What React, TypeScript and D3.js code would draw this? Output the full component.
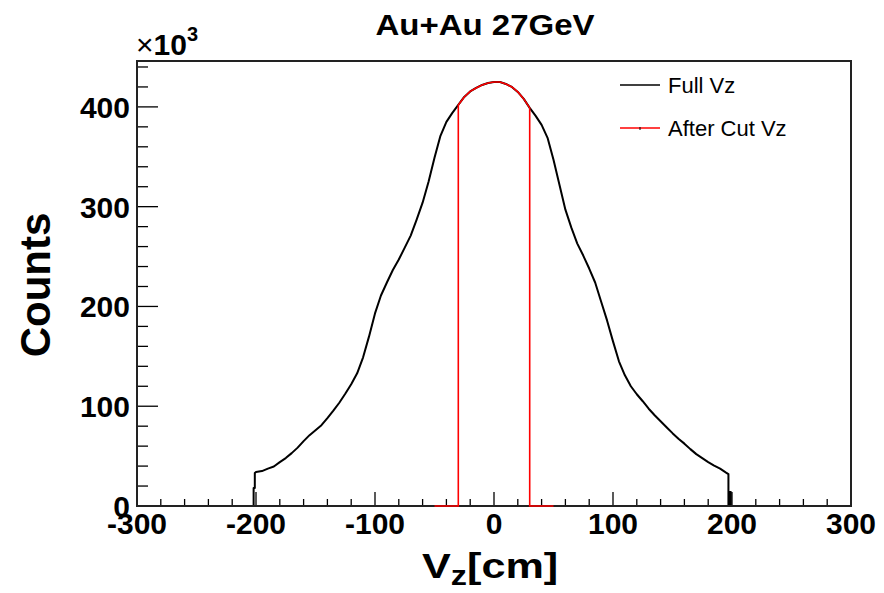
import React from "react";
import * as d3 from "d3";

const vz = [
  -300, -202, -202, -201, -201, -200, -195, -190, -185, -180, -175, -170, -165, -160, -155, -150,
  -145, -140, -135, -130, -125, -120, -115, -110, -105, -100, -95, -90, -85, -80, -75, -70,
  -65, -60, -55, -50, -45, -40, -35, -30, -25, -20, -15, -10, -5, 0, 5, 10, 15, 20, 25, 30,
  35, 40, 45, 50, 55, 60, 65, 70, 75, 80, 85, 90, 95, 100, 105, 110, 115, 120, 125, 130,
  135, 140, 145, 150, 155, 160, 165, 170, 175, 180, 185, 190, 195, 197, 197, 198, 198, 199, 199, 300,
];
const counts = [
  0, 0, 18, 18, 33, 34, 35, 37.5, 39.6, 44, 48, 53, 58.5, 65, 71, 76,
  81, 88, 95.5, 103.5, 112.5, 122, 133, 149, 170, 193, 211, 224, 236.5, 247, 259, 271,
  287, 304, 325, 349, 371, 385, 394, 402, 410, 415.5, 419, 422, 424, 425, 425, 423, 420, 415, 408, 399,
  391, 382, 369, 347, 322, 297, 279, 263, 251, 238, 224, 205, 186, 165, 145, 131, 120, 112, 105, 97.5,
  91, 85, 79, 73, 67.5, 62.5, 57, 52, 48, 44, 40.5, 37.5, 33.5, 32, 0, 0, 14, 14, 0, 0,
];
const cutEdges = [-30, 30];
const cutHistRange = [-50, 50];
const xTicksMajor = [-300, -200, -100, 0, 100, 200, 300];
const yTicksMajor = [0, 100, 200, 300, 400];
const legendLabels = ["Full Vz", "After Cut Vz"];
const title = "Au+Au 27GeV";

const W = 884, H = 593;
const L = 137, R = 851, T = 61, B = 506;
const FONT = "'Liberation Sans', Arial, Helvetica, sans-serif";

export default function App() {
  const x = d3.scaleLinear().domain([-300, 300]).range([L, R]);
  const y = d3.scaleLinear().domain([0, 446]).range([B, T]);

  const full = vz.map((v, i) => [v, counts[i]] as [number, number]);
  const inCut = full.filter(([v]) => v >= cutEdges[0] && v <= cutEdges[1]);
  const red: [number, number][] = [
    [cutHistRange[0], 0],
    [cutEdges[0], 0],
    [cutEdges[0], inCut[0][1]],
    ...inCut,
    [cutEdges[1], inCut[inCut.length - 1][1]],
    [cutEdges[1], 0],
    [cutHistRange[1], 0],
  ];
  const line = d3.line<[number, number]>().x(d => x(d[0])).y(d => y(d[1]));

  const xMinor = d3.range(-300, 301, 20);
  const yMinor = d3.range(0, 441, 20);

  return (
    <svg width={W} height={H} style={{ position: "absolute", left: 0, top: 0, background: "#fff" }} fontFamily={FONT}>
      <rect x={0} y={0} width={W} height={H} fill="#fff" />
      {xMinor.map(t => {
        const major = xTicksMajor.includes(t);
        return <line key={"xt" + t} x1={x(t)} x2={x(t)} y1={B} y2={B - (major ? 14 : 7)} stroke="#000" strokeWidth={1.3} />;
      })}
      {yMinor.map(t => {
        const major = yTicksMajor.includes(t);
        return <line key={"yt" + t} x1={L} x2={L + (major ? 21 : 11)} y1={y(t)} y2={y(t)} stroke="#000" strokeWidth={1.3} />;
      })}
      <path d={line(full) || ""} fill="none" stroke="#000" strokeWidth={2} strokeLinejoin="round" />
      <rect x={L} y={T} width={R - L} height={B - T} fill="none" stroke="#222" strokeWidth={2} />
      <path d={line(red) || ""} fill="none" stroke="#ff0000" strokeWidth={1.6} />
      {xTicksMajor.map(t => (
        <text key={"xl" + t} x={x(t)} y={534} textAnchor="middle" fontSize={30} fontWeight="bold" fill="#000">{t}</text>
      ))}
      {yTicksMajor.map(t => (
        <text key={"yl" + t} x={130} y={y(t) + 11} textAnchor="end" fontSize={30} fontWeight="bold" fill="#000">{t}</text>
      ))}
      <text transform="translate(422,578) scale(1.2,1)" fontSize={36} fontWeight="bold" fill="#000">
        V<tspan fontSize={27} dy={7}>z</tspan><tspan dy={-7}>[cm]</tspan>
      </text>
      <text transform={`translate(50,285) rotate(-90)`} textAnchor="middle" fontSize={42} fontWeight="bold" fill="#000">Counts</text>
      <text x={136} y={55} fontSize={30} fill="#000">
        <tspan fontWeight="normal">×</tspan><tspan fontWeight="bold">10</tspan><tspan fontSize={20} fontWeight="bold" dy={-14}>3</tspan>
      </text>
      <text transform="translate(485,35) scale(1.1,1)" textAnchor="middle" fontSize={30} fontWeight="bold" fill="#000">{title}</text>
      <line x1={620} x2={660} y1={85} y2={85} stroke="#000" strokeWidth={1.5} />
      <text x={668} y={93} fontSize={22} fill="#000">{legendLabels[0]}</text>
      <line x1={620} x2={660} y1={128} y2={128} stroke="#ff0000" strokeWidth={1.5} />
      <line x1={640} x2={640} y1={127} y2={130} stroke="#000" strokeWidth={1} />
      <text x={668} y={136} fontSize={22} fill="#000">{legendLabels[1]}</text>
    </svg>
  );
}
